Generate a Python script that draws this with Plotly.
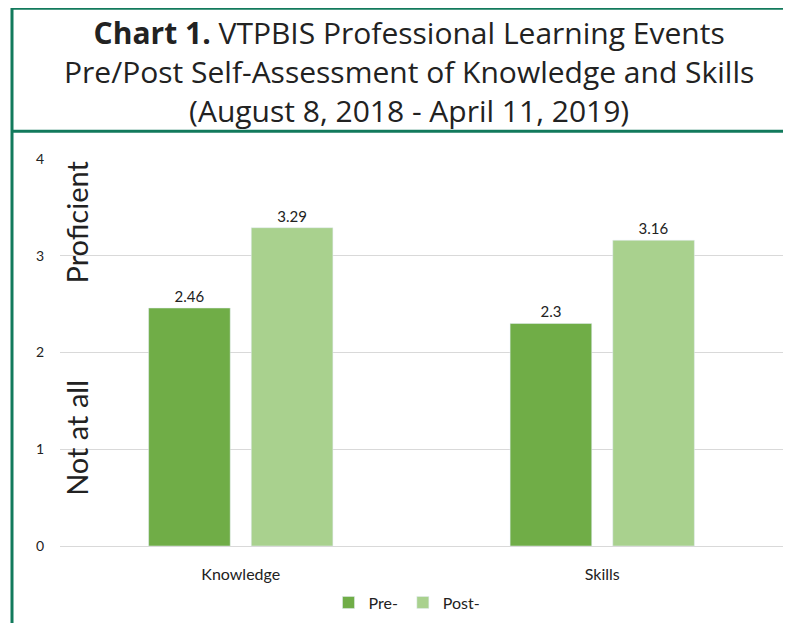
import plotly.graph_objects as go

categories = ["Knowledge", "Skills"]
pre_values = [2.46, 2.3]
post_values = [3.29, 3.16]
pre_labels = ["2.46", "2.3"]
post_labels = ["3.29", "3.16"]
y_ticks = [0, 1, 2, 3, 4]
title_lines = [
    "<b>Chart 1.</b> VTPBIS Professional Learning Events",
    "Pre/Post Self-Assessment of Knowledge and Skills",
    "(August 8, 2018 - April 11, 2019)",
]

W, H = 791, 623
OFF = 8  # page body offset
ML, MR, MT, MB = 52, 16, 151, 82
PW = W - ML - MR
PH = H - MT - MB

def px(x):
    return (x - OFF - ML) / PW

def py(y):
    return (H - MB - (y - OFF)) / PH

GREEN = "#127a5c"
TXT = "#222222"

fig = go.Figure()
fig.add_trace(go.Bar(
    name="Pre-", x=categories, y=pre_values, text=pre_labels,
    textposition="outside", marker_color="#70AD47",
    textfont=dict(size=15, color=TXT, family="Lato"),
    cliponaxis=False,
))
fig.add_trace(go.Bar(
    name="Post-", x=categories, y=post_values, text=post_labels,
    textposition="outside", marker_color="#A9D18E",
    textfont=dict(size=15, color=TXT, family="Lato"),
    cliponaxis=False,
))

shapes = [
    dict(type="line", xref="paper", yref="paper", x0=px(11), x1=px(800), y0=py(7), y1=py(7),
         line=dict(color=GREEN, width=3)),
    dict(type="line", xref="paper", yref="paper", x0=px(12), x1=px(12), y0=py(6), y1=py(640),
         line=dict(color=GREEN, width=3)),
    dict(type="line", xref="paper", yref="paper", x0=px(12), x1=px(800), y0=py(131), y1=py(131),
         line=dict(color=GREEN, width=3)),
]

annotations = [
    dict(text="<br>".join(title_lines), xref="paper", yref="paper", x=px(409), y=py(71),
         xanchor="center", yanchor="middle", showarrow=False, align="center",
         font=dict(family="Open Sans", size=30, color=TXT)),
    dict(text="Proficient", xref="paper", yref="paper", x=px(77), y=py(223), textangle=-90,
         xanchor="center", yanchor="middle", showarrow=False,
         font=dict(family="Lato", size=29, color=TXT)),
    dict(text="Not at all", xref="paper", yref="paper", x=px(77), y=py(440), textangle=-90,
         xanchor="center", yanchor="middle", showarrow=False,
         font=dict(family="Lato", size=29, color=TXT)),
]

fig.update_layout(
    width=W, height=H,
    margin=dict(l=ML, r=MR, t=MT, b=MB),
    paper_bgcolor="white", plot_bgcolor="white",
    barmode="group", bargap=0.432, bargroupgap=0.205,
    shapes=shapes, annotations=annotations,
    showlegend=True,
    legend=dict(orientation="h", xanchor="center", yanchor="middle", x=px(407), y=py(606),
                font=dict(family="Lato", size=16, color=TXT),
                itemwidth=30, traceorder="normal"),
    font=dict(family="Lato", size=15, color=TXT),
)
fig.update_yaxes(range=[0, 4], tickvals=y_ticks, showgrid=True, gridcolor="#d9d9d9",
                 zeroline=False, showline=False, ticks="", ticklabelstandoff=15,
                 tickfont=dict(size=14, color=TXT, family="Lato"))
fig.update_xaxes(showline=True, linecolor="#d9d9d9", ticks="", ticklabelstandoff=14,
                 tickfont=dict(size=16, color=TXT, family="Lato"))

fig.write_html("out.html")
